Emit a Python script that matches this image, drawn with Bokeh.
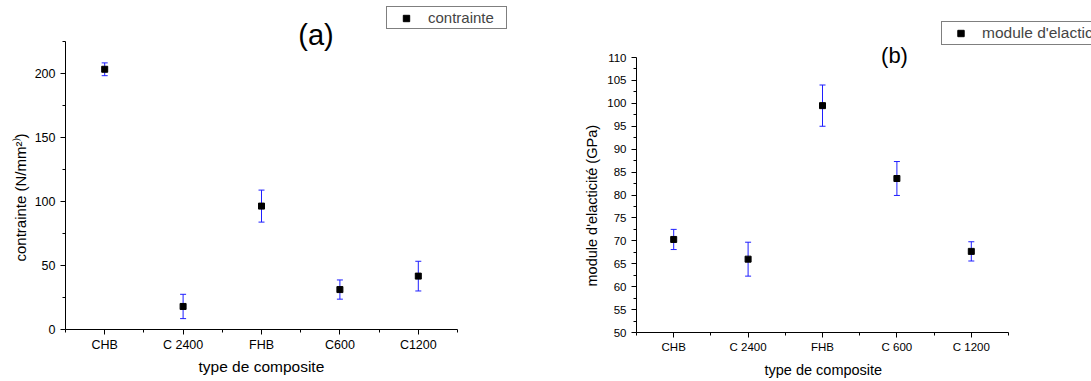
from bokeh.plotting import figure
from bokeh.models import (ColumnDataSource, Whisker, TeeHead, FixedTicker, Range1d,
                          Legend, LegendItem, Label, Title)
from bokeh.layouts import row
from bokeh.embed import file_html
from bokeh.resources import INLINE

# ---- data ----
cats_a = ["CHB", "C 2400", "FHB", "C600", "C1200"]
contrainte = [203.3, 18.0, 96.4, 31.2, 41.7]
contrainte_err = [5.0, 9.5, 12.5, 7.5, 11.6]

cats_b = ["CHB", "C 2400", "FHB", "C 600", "C 1200"]
module = [70.3, 66.0, 99.5, 83.6, 67.7]
module_err = [2.2, 3.7, 4.5, 3.7, 2.1]

yticks_a = [0, 50, 100, 150, 200]
yminor_a = [25, 75, 125, 175, 225]
yticks_b = [50, 55, 60, 65, 70, 75, 80, 85, 90, 95, 100, 105, 110]
yminor_b = [52.5, 57.5, 62.5, 67.5, 72.5, 77.5, 82.5, 87.5, 92.5, 97.5, 102.5, 107.5]

FONT = "Liberation Sans"
BLUE = "#1f1fff"
FRAME_TOP = 5


def make_panel(cats, vals, errs, ylim, ymajor, yminor, ylabel, legend_label,
               title, fig_w, axis_left, axis_w, axis_top, axis_bottom,
               tick_fs, label_fs, ylabel_fs, legend_fs, title_fs,
               legend_box, glyph_w, legend_label_width, title_xy,
               xlabel_offset, ylabel_offset, ylabel_standoff, xlabel_standoff):
    n = len(cats)
    xs = [i + 1 for i in range(n)]
    src = ColumnDataSource(dict(
        x=xs, y=vals,
        upper=[v + e for v, e in zip(vals, errs)],
        lower=[v - e for v, e in zip(vals, errs)],
    ))
    frame_w = fig_w - axis_left
    frame_h = axis_bottom - FRAME_TOP
    px_per_x = axis_w / n
    px_per_y = (axis_bottom - axis_top) / (ylim[1] - ylim[0])
    x_end = 0.5 + frame_w / px_per_x
    y_end = ylim[0] + frame_h / px_per_y

    p = figure(frame_width=frame_w, frame_height=frame_h, title=None,
               x_range=Range1d(0.5, x_end), y_range=Range1d(ylim[0], y_end),
               output_backend="svg", toolbar_location=None,
               min_border_left=axis_left, min_border_top=FRAME_TOP,
               min_border_right=0, min_border_bottom=0)
    p.outline_line_color = None
    p.xgrid.visible = False
    p.ygrid.visible = False
    p.background_fill_color = "white"
    p.border_fill_color = "white"

    w = Whisker(base="x", upper="upper", lower="lower", source=src,
                line_color=BLUE, line_width=1, level="underlay",
                upper_head=TeeHead(size=6, line_color=BLUE, line_width=1),
                lower_head=TeeHead(size=6, line_color=BLUE, line_width=1))
    p.add_layout(w)
    r = p.scatter("x", "y", source=src, marker="square", size=6,
                  fill_color="black", line_color="black")

    xa = p.xaxis[0]
    xa.ticker = FixedTicker(ticks=xs, minor_ticks=[i + 0.5 for i in range(n + 1)])
    xa.major_label_overrides = {x: c for x, c in zip(xs, cats)}
    xa.bounds = (0.5, n + 0.5)
    ya = p.yaxis[0]
    ya.ticker = FixedTicker(ticks=ymajor, minor_ticks=yminor)
    ya.bounds = ylim

    for ax in (xa, ya):
        ax.axis_line_color = "black"
        ax.axis_line_width = 1
        ax.major_tick_line_color = "black"
        ax.minor_tick_line_color = "black"
        ax.major_tick_in = 0
        ax.major_tick_out = 5
        ax.minor_tick_in = 0
        ax.minor_tick_out = 3
        ax.major_label_text_font = FONT
        ax.major_label_text_font_size = f"{tick_fs}px"
        ax.major_label_text_color = "black"
    xa.major_label_standoff = 3
    ya.major_label_standoff = 5

    # axis titles placed along the drawn axis (not the whole frame)
    xt = Title(text="type de composite", align="left", offset=xlabel_offset,
               standoff=xlabel_standoff, vertical_align="bottom",
               text_font=FONT, text_font_size=f"{label_fs}px",
               text_font_style="normal", text_color="black")
    p.add_layout(xt, "below")
    yt = Title(text=ylabel, align="left", offset=ylabel_offset,
               standoff=ylabel_standoff, vertical_align="bottom",
               text_font=FONT, text_font_size=f"{ylabel_fs}px",
               text_font_style="normal", text_color="black")
    p.add_layout(yt, "left")

    lx, ly = legend_box
    leg = Legend(items=[LegendItem(label=legend_label, renderers=[r])],
                 location=(lx - axis_left, axis_bottom - ly),
                 padding=2, spacing=0, margin=0,
                 glyph_width=glyph_w, glyph_height=16, label_height=16,
                 label_width=legend_label_width, label_standoff=5,
                 label_text_font=FONT, label_text_font_size=f"{legend_fs}px",
                 border_line_color="black", border_line_width=1,
                 background_fill_color="white", background_fill_alpha=1.0)
    p.add_layout(leg)

    t = Label(x=title_xy[0] - axis_left, y=axis_bottom - title_xy[1],
              x_units="screen", y_units="screen",
              text=title, text_font=FONT, text_font_size=f"{title_fs}px",
              text_align="center", text_baseline="middle", text_color="black")
    p.add_layout(t)
    return p


p1 = make_panel(cats_a, contrainte, contrainte_err, (0, 225), yticks_a, yminor_a,
                "contrainte (N/mm²⁾)", "contrainte", "(a)",
                fig_w=560, axis_left=65, axis_w=392, axis_top=41, axis_bottom=329,
                tick_fs=12.5, label_fs=15.5, ylabel_fs=15, legend_fs=15, title_fs=29,
                legend_box=(386, 29), glyph_w=34, legend_label_width=76,
                title_xy=(315.5, 34),
                xlabel_offset=133, ylabel_offset=68, ylabel_standoff=6,
                xlabel_standoff=3)
p2 = make_panel(cats_b, module, module_err, (50, 110), yticks_b, yminor_b,
                "module d'elacticité (GPa)", "module d'elacticité", "(b)",
                fig_w=531, axis_left=76, axis_w=372, axis_top=57, axis_bottom=332,
                tick_fs=11.5, label_fs=14.5, ylabel_fs=14.5, legend_fs=15.5, title_fs=22,
                legend_box=(381, 45), glyph_w=33, legend_label_width=150,
                title_xy=(334, 55),
                xlabel_offset=128, ylabel_offset=46, ylabel_standoff=10,
                xlabel_standoff=8)

layout = row(p1, p2)
open("out.html", "w").write(file_html(layout, INLINE))
